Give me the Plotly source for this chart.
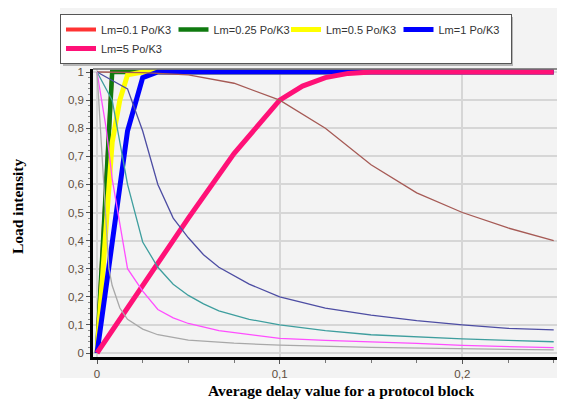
import plotly.graph_objects as go

# ---------------- data ----------------
legend_names = ["Lm=0.1 Po/K3", "Lm=0.25 Po/K3", "Lm=0.5 Po/K3", "Lm=1 Po/K3", "Lm=5 Po/K3"]

x_red = [0, 0.0083, 0.25]
y_red = [0, 1.0, 1.0]

x_green = [0, 0.0083, 0.25]
y_green = [0, 1.0, 1.0]

x_yellow = [0, 0.0083, 0.0125, 0.0167, 0.025, 0.25]
y_yellow = [0, 0.75, 0.9, 0.99, 1.0, 1.0]

x_blue = [0, 0.0167, 0.025, 0.0333, 0.25]
y_blue = [0, 0.79, 0.98, 1.0, 1.0]

x_pink = [0, 0.025, 0.05, 0.075, 0.1, 0.1125, 0.125, 0.1375, 0.15, 0.25]
y_pink = [0, 0.24, 0.48, 0.71, 0.9, 0.95, 0.98, 0.995, 1.0, 1.0]

x_brown = [0, 0.025, 0.05, 0.075, 0.1, 0.125, 0.15, 0.175, 0.2, 0.225, 0.25]
y_brown = [1, 0.998, 0.99, 0.96, 0.9, 0.8, 0.67, 0.57, 0.5, 0.445, 0.4]

x_navy = [0, 0.0167, 0.025, 0.0333, 0.0417, 0.05, 0.0583, 0.0667, 0.0833, 0.1,
          0.125, 0.15, 0.175, 0.2, 0.225, 0.25]
y_navy = [1, 0.94, 0.79, 0.6, 0.48, 0.41, 0.35, 0.305, 0.245, 0.2,
          0.16, 0.135, 0.115, 0.1, 0.088, 0.082]

x_teal = [0, 0.0083, 0.0167, 0.025, 0.0333, 0.0417, 0.05, 0.0583, 0.0667, 0.0833,
          0.1, 0.125, 0.15, 0.175, 0.2, 0.225, 0.25]
y_teal = [1, 0.9, 0.6, 0.395, 0.305, 0.245, 0.205, 0.175, 0.15, 0.12,
          0.1, 0.08, 0.065, 0.057, 0.05, 0.045, 0.04]

x_magenta = [0, 0.005, 0.0083, 0.0167, 0.025, 0.0333, 0.0417, 0.05, 0.0667, 0.0833,
             0.1, 0.125, 0.15, 0.175, 0.2, 0.225, 0.25]
y_magenta = [1, 0.8, 0.62, 0.3, 0.22, 0.155, 0.125, 0.105, 0.08, 0.065,
             0.052, 0.045, 0.04, 0.034, 0.027, 0.022, 0.019]

x_gray = [0, 0.0065, 0.0083, 0.0125, 0.0167, 0.025, 0.0333, 0.05, 0.075, 0.1, 0.15, 0.2, 0.25]
y_gray = [1, 0.3, 0.24, 0.16, 0.12, 0.085, 0.065, 0.046, 0.035, 0.028, 0.02, 0.015, 0.011]

x_title = "Average delay value for a protocol block"
y_title = "Load intensity"

# ---------------- geometry helpers ----------------
# The page body adds an 8 px offset, so window coords = figure coords + 8.
OFF = 8
W, H = 565, 401
PL, PR, PT, PB = 93, 559, 69, 357          # plot area in window pixels
ML, MT = PL - OFF, PT - OFF
MR, MB = W - (PR - OFF), H - (PB - OFF)
PW, PH = PR - PL, PB - PT


def px2x(px):
    return (px - PL) / PW


def py2y(py):
    return (PB - py) / PH


fig = go.Figure()

thick = [
    (x_red, y_red, "#ff3333", 4),
    (x_green, y_green, "#0f7a0f", 4.5),
    (x_yellow, y_yellow, "#ffff00", 5),
    (x_blue, y_blue, "#0000ff", 5),
    (x_pink, y_pink, "#ff1177", 5),
]
for (xs, ys, col, w), name in zip(thick, legend_names):
    fig.add_trace(go.Scatter(x=xs, y=ys, mode="lines", name=name,
                             line=dict(color=col, width=w)))

thin = [
    (x_brown, y_brown, "#a65a55"),
    (x_navy, y_navy, "#4d4da3"),
    (x_teal, y_teal, "#3e9e9e"),
    (x_magenta, y_magenta, "#ff4dff"),
    (x_gray, y_gray, "#a8a8a8"),
]
for xs, ys, col in thin:
    fig.add_trace(go.Scatter(x=xs, y=ys, mode="lines", showlegend=False,
                             line=dict(color=col, width=1.3)))

tickfont = dict(family="Arial, Liberation Sans", size=11.5, color="#5e4e40")

fig.update_layout(
    width=W, height=H,
    margin=dict(l=ML, r=MR, t=MT, b=MB, pad=0, autoexpand=False),
    paper_bgcolor="white",
    plot_bgcolor="#f7f7f7",
    separators=", ",
    showlegend=True,
    legend=dict(
        orientation="h",
        x=px2x(60), y=py2y(14), xanchor="left", yanchor="top",
        bgcolor="white", bordercolor="#555555", borderwidth=1,
        entrywidth=67.5, entrywidthmode="pixels", itemwidth=30,
        font=dict(family="Arial, Liberation Sans", size=11, color="#333333"),
        tracegroupgap=0,
    ),
    xaxis=dict(
        range=[-0.0022, 0.2529], dtick=0.1, tick0=0,
        showgrid=True, gridcolor="#d6d6d6", gridwidth=1.5,
        zeroline=False, showline=True, linecolor="black", linewidth=2.5,
        ticks="outside", ticklen=4, tickcolor="#555555",
        minor=dict(dtick=0.025, ticks="outside", ticklen=3, tickcolor="#777777", showgrid=False),
        tickfont=tickfont,
    ),
    yaxis=dict(
        range=[-0.0142, 1.0107], dtick=0.1, tick0=0,
        showgrid=True, gridcolor="#d6d6d6", gridwidth=1.5,
        zeroline=False, showline=True, linecolor="black", linewidth=2.5,
        ticks="outside", ticklen=4, tickcolor="#555555",
        minor=dict(dtick=0.02, ticks="outside", ticklen=2, tickcolor="#888888", showgrid=False),
        tickfont=tickfont,
    ),
    shapes=[
        # light gray panel behind the chart
        dict(type="rect", xref="paper", yref="paper", layer="below",
             x0=px2x(60), x1=px2x(580), y0=py2y(378), y1=py2y(8),
             fillcolor="#f3f3f3", line=dict(width=0)),
        # legend shadow
        dict(type="rect", xref="paper", yref="paper", layer="below",
             x0=px2x(63), x1=px2x(513), y0=py2y(66), y1=py2y(17),
             fillcolor="#b5b5b5", line=dict(width=0)),
        # top & right frame lines
        dict(type="line", xref="paper", yref="paper", layer="above",
             x0=0, x1=1, y0=1, y1=1, line=dict(color="#6a6a6a", width=1.5)),
        dict(type="line", xref="paper", yref="paper", layer="above",
             x0=1, x1=1, y0=0, y1=1, line=dict(color="#6a6a6a", width=1.5)),
    ],
    annotations=[
        dict(text="<b>" + x_title + "</b>", xref="paper", yref="paper",
             x=px2x(341), y=py2y(390), xanchor="center", yanchor="middle",
             showarrow=False,
             font=dict(family="Liberation Serif, Times New Roman", size=15.5, color="black")),
        dict(text="<b>" + y_title + "</b>", xref="paper", yref="paper",
             x=px2x(17), y=py2y(207), xanchor="center", yanchor="middle",
             textangle=-90, showarrow=False,
             font=dict(family="Liberation Serif, Times New Roman", size=15.5, color="black")),
    ],
)

fig.write_html("out.html")
